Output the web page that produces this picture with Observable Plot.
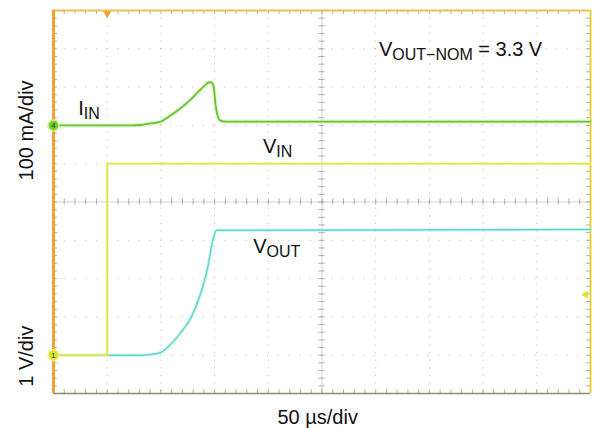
<!DOCTYPE html>
<html><head><meta charset="utf-8">
<script src="https://cdn.jsdelivr.net/npm/d3@7"></script>
<script src="https://cdn.jsdelivr.net/npm/@observablehq/plot@0.6"></script>
<style>body{margin:0;background:#fff} #chart svg{display:block}</style>
</head><body><div id="chart"></div><script>
// Time base: 50 µs/div, 10 divisions, trigger at 0
const timeDomain = [-50, 450];
const divDomain = [0, 10];

// Input current I_IN (mA), channel 4: 100 mA/div
const iinT  = [-50, 22, 31, 40, 50, 59, 68, 78, 87, 92, 94, 97, 99, 101, 103, 105, 110, 450];
const iinMA = [0,   0,  1,  5,  10, 26, 44, 68, 94, 107, 112, 112, 102, 52, 23, 13, 10, 10];

// Input voltage V_IN (V), channel 1: 1 V/div
const vinT = [-50, 0, 0, 450];
const vinV = [0,   0, 5, 5];

// Output voltage V_OUT (V), same ground as channel 1: 1 V/div
const voutT = [-50, 0, 31, 40, 50, 56, 68, 78, 87, 93, 99, 102, 450];
const voutV = [0,   0, 0, 0.02, 0.07, 0.2, 0.57, 0.98, 1.61, 2.21, 3.07, 3.26, 3.28];

// Channel settings (scale per division, ground offset in divisions)
const ch4 = {perDiv: 100, ground: 7};
const ch1 = {perDiv: 1, ground: 1};
const trigLevelV = 1.58;

const labels = [
  {text: "I_IN", t: -27, v: 7.26},
  {text: "V_IN", t: 145, v: 6.29},
  {text: "V_OUT", t: 136, v: 3.66},
  {text: "V_OUT\u2212NOM_ = 3.3 V", t: 253, v: 8.8}
];

const toDiv = (c) => (val) => c.ground + val / c.perDiv;
const iin = iinT.map((t, i) => ({t, y: toDiv(ch4)(iinMA[i])}));
const vin = vinT.map((t, i) => ({t, y: toDiv(ch1)(vinV[i])}));
const vout = voutT.map((t, i) => ({t, y: toDiv(ch1)(voutV[i])}));

const majorX = d3.range(0, 401, 50);
const majorY = d3.range(1, 10, 1);
const minorX = d3.range(-50, 450.01, 10);
const minorY = d3.range(0, 10.001, 0.2);
const tx = 3.7, ty = 0.1; // tick half-lengths in data units

const font = "'Liberation Sans', Arial, Helvetica, sans-serif";

const plot = Plot.plot({
  width: 595, height: 428,
  marginLeft: 53, marginRight: 5, marginTop: 10, marginBottom: 35,
  x: {domain: timeDomain, axis: null},
  y: {domain: divDomain, axis: null},
  style: {background: "#fff", fontFamily: font, overflow: "visible"},
  marks: [
    // dotted graticule
    Plot.ruleX(majorX.filter(d => d !== 200), {stroke: "#aaa", strokeWidth: 1, strokeDasharray: "1.2,6.4", strokeOpacity: 0.7}),
    Plot.ruleY(majorY.filter(d => d !== 5), {stroke: "#aaa", strokeWidth: 1, strokeDasharray: "1.2,9.5", strokeOpacity: 0.7}),
    // center cross
    Plot.ruleX([200], {stroke: "#c8c8c8", strokeWidth: 0.8}),
    Plot.ruleY([5], {stroke: "#c8c8c8", strokeWidth: 0.8}),
    Plot.ruleY(minorY, {y: d => d, x1: 200 - tx * 0.8, x2: 200 + tx * 0.8, stroke: "#999", strokeWidth: 0.8}),
    Plot.ruleX(minorX, {x: d => d, y1: 5 - ty * 0.8, y2: 5 + ty * 0.8, stroke: "#999", strokeWidth: 0.8}),
    // edge ticks
    Plot.ruleY(minorY, {y: d => d, x1: -50, x2: -50 + tx, stroke: "#999", strokeWidth: 0.8}),
    Plot.ruleY(minorY, {y: d => d, x1: 450 - tx, x2: 450, stroke: "#999", strokeWidth: 0.8}),
    Plot.ruleX(minorX, {x: d => d, y1: 10 - ty, y2: 10, stroke: "#999", strokeWidth: 0.8}),
    Plot.ruleX(minorX, {x: d => d, y1: 0, y2: ty, stroke: "#999", strokeWidth: 0.8}),
    // frame borders
    Plot.ruleY([0], {stroke: "#8f8f6a", strokeWidth: 1.5}),
    Plot.ruleY([10], {stroke: "#e8c24a", strokeWidth: 2}),
    Plot.ruleX([450], {stroke: "#e6d03a", strokeWidth: 2}),
    Plot.ruleX([-50], {stroke: "#f2a232", strokeWidth: 3}),
    // traces
    Plot.line(vout, {x: "t", y: "y", stroke: "#bff0ec", strokeWidth: 3.5, strokeOpacity: 0.6, curve: "monotone-x"}),
    Plot.line(vout, {x: "t", y: "y", stroke: "#5fd6cc", strokeWidth: 1.5, curve: "monotone-x"}),
    Plot.line(vin, {x: "t", y: "y", stroke: "#f4f4a0", strokeWidth: 3.5, strokeOpacity: 0.6}),
    Plot.line(vin, {x: "t", y: "y", stroke: "#e2e24e", strokeWidth: 1.6}),
    Plot.line(iin, {x: "t", y: "y", stroke: "#d6f2a0", strokeWidth: 4, strokeOpacity: 0.6, curve: "monotone-x"}),
    Plot.line(iin, {x: "t", y: "y", stroke: "#62c63a", strokeWidth: 1.8, curve: "monotone-x"}),
    // channel markers
    Plot.dot([{t: -50, y: ch4.ground}], {x: "t", y: "y", r: 5.5, fill: "#6ccf3a", stroke: "#d9f07a", strokeWidth: 1.5}),
    Plot.text([{t: -50, y: ch4.ground}], {x: "t", y: "y", text: () => "4", fontSize: 8, fill: "#2a4a10"}),
    Plot.dot([{t: -50, y: ch1.ground}], {x: "t", y: "y", r: 5.5, fill: "#d8e23c", stroke: "#f2f27c", strokeWidth: 1.5}),
    Plot.text([{t: -50, y: ch1.ground}], {x: "t", y: "y", text: () => "1", fontSize: 8, fill: "#3a3a10"}),
    // trigger markers
    Plot.dot([{t: 450, y: toDiv(ch1)(trigLevelV)}], {x: "t", y: "y", symbol: "triangle", rotate: -90, r: 3, fill: "#e2e23a", dx: -5}),
    Plot.dot([{t: 0, y: 10}], {x: "t", y: "y", symbol: "triangle", rotate: 180, r: 3, fill: "#f0a030", dy: 3}),
    // trace labels (with subscripts)
    Plot.text(labels, {x: "t", y: "v", text: "text", textAnchor: "start", lineAnchor: "bottom", fontSize: 20, fill: "#111"}),
    // volts/amps per division
    Plot.text([{t: -50, y: ch4.ground, s: "100 mA/div"}], {x: "t", y: "y", text: "s", rotate: -90, fontSize: 20, fill: "#111", dx: -27, dy: 5, lineAnchor: "middle"}),
    Plot.text([{t: -50, y: ch1.ground, s: "1 V/div"}], {x: "t", y: "y", text: "s", rotate: -90, fontSize: 20, fill: "#111", dx: -27, dy: 1, lineAnchor: "middle"}),
    // time per division
    Plot.text([{t: 196, y: 0, s: "50 \u00b5s/div"}], {x: "t", y: "y", text: "s", fontSize: 20, fill: "#111", dy: 30, lineAnchor: "bottom"})
  ]
});

d3.select(plot).selectAll("text").each(function () {
  if (!this.textContent.includes("_")) return;
  const parts = this.textContent.split("_");
  const el = d3.select(this);
  el.text(null);
  parts.forEach((p, i) => {
    const ts = el.append("tspan").text(p);
    if (i % 2 === 1) ts.attr("font-size", 16).attr("dy", 4);
    else if (i > 0) ts.attr("dy", -4);
  });
});

document.getElementById("chart").append(plot);
</script></body></html>
